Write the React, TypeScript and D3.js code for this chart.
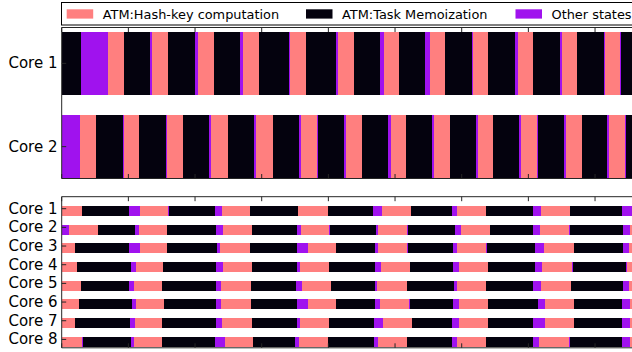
import React from "react";
import * as d3 from "d3";

// State codes: H = hash-key computation, M = task memoization, O = other states
const STATE_LABELS: Record<string, string> = {
  H: "ATM:Hash-key computation",
  M: "ATM:Task Memoization",
  O: "Other states",
};
const STATE_ORDER = ["H", "M", "O"];
const STATE_COLORS: Record<string, string> = {
  H: "#ff7f7f",
  M: "#04020e",
  O: "#a012ee",
};

// Upper panel: two cores
const topCores = ["Core 1", "Core 2"];
const topCore1Bounds = [0, 29, 69, 93, 132, 135, 159, 200, 204, 228, 267, 272, 296, 341, 342, 366, 411, 414, 438, 477, 483, 506, 545, 552, 575, 615, 617, 640, 680, 684, 707, 747, 750, 773, 813, 815, 837, 839, 875];
const topCore1States = "MOHMOHMOHMOHMOHMOHMOHMOHMOHMOHMOHMOHOM";
const topCore2Bounds = [0, 27, 51, 92, 94, 116, 156, 158, 182, 221, 224, 249, 288, 291, 317, 356, 359, 383, 384, 423, 426, 450, 489, 494, 516, 555, 558, 582, 621, 624, 647, 686, 689, 713, 714, 753, 756, 780, 818, 821, 845, 846, 875];
const topCore2States = "OHMOHMOHMOHMOHMOHOMOHMOHMOHMOHMOHOMOHMOHOM";

// Lower panel: eight cores
const bottomCores = ["Core 1", "Core 2", "Core 3", "Core 4", "Core 5", "Core 6", "Core 7", "Core 8"];
const b1Bounds = [0, 30, 101, 118, 160, 161, 230, 240, 283, 354, 355, 399, 400, 467, 480, 524, 585, 593, 636, 707, 719, 763, 841, 860];
const b1States = "HMOHOMOHMOHOMOHMOHMOHMO";
const b2Bounds = [0, 11, 54, 110, 116, 158, 231, 242, 285, 353, 359, 401, 403, 472, 474, 518, 519, 590, 599, 642, 707, 718, 761, 763, 842, 853, 880];
const b2States = "OHMOHMOHMOHOMOHOMOHMOHOMOH";
const b3Bounds = [0, 20, 101, 117, 158, 233, 237, 282, 353, 369, 411, 470, 474, 518, 519, 587, 593, 636, 638, 710, 723, 768, 842, 851, 880];
const b3States = "HMOHMOHMOHMOHOMOHOMOHMOH";
const b4Bounds = [0, 23, 104, 111, 152, 231, 242, 285, 353, 357, 401, 470, 479, 522, 587, 596, 639, 710, 721, 765, 767, 846, 848, 880];
const b4States = "HMOHMOHMOHMOHMOHMOHOMOH";
const b5Bounds = [0, 29, 101, 108, 150, 231, 239, 284, 351, 360, 404, 470, 473, 518, 588, 593, 636, 707, 719, 764, 842, 851, 880];
const b5States = "HMOHMOHMOHMOHMOHMOHMOH";
const b6Bounds = [0, 26, 105, 111, 153, 231, 239, 284, 353, 369, 411, 470, 477, 521, 522, 587, 596, 639, 714, 725, 768, 841, 853, 880];
const b6States = "HMOHMOHMOHMOHOMOHMOHMOH";
const b7Bounds = [0, 20, 102, 110, 150, 231, 240, 285, 353, 357, 401, 468, 482, 525, 585, 596, 639, 707, 725, 768, 841, 853, 880];
const b7States = "HMOHMOHMOHMOHMOHMOHMOH";
const b8Bounds = [0, 30, 32, 104, 108, 150, 230, 245, 287, 350, 356, 399, 468, 474, 518, 585, 593, 636, 707, 716, 761, 763, 841, 853, 880];
const b8States = "HOMOHMOHMOHMOHMOHMOHOMOH";

const xDomain = [0, 900];
const xTickValues = d3.range(0, 901, 100);

type Seg = { core: string; state: string; start: number; end: number };

function toSegments(core: string, bounds: number[], states: string): Seg[] {
  return states.split("").map((s, i) => ({ core, state: s, start: bounds[i], end: bounds[i + 1] }));
}

const topSegments: Seg[] = [
  ...toSegments("Core 1", topCore1Bounds, topCore1States),
  ...toSegments("Core 2", topCore2Bounds, topCore2States),
];
const bottomSegments: Seg[] = [
  ["Core 1", b1Bounds, b1States],
  ["Core 2", b2Bounds, b2States],
  ["Core 3", b3Bounds, b3States],
  ["Core 4", b4Bounds, b4States],
  ["Core 5", b5Bounds, b5States],
  ["Core 6", b6Bounds, b6States],
  ["Core 7", b7Bounds, b7States],
  ["Core 8", b8Bounds, b8States],
].flatMap(([c, b, s]) => toSegments(c as string, b as number[], s as string));

const W = 632;
const H = 352;
const LEFT = 61.7;
const FONT = "'DejaVu Sans', sans-serif";
const AXIS_COLOR = "#262626";
const TICK_LEN = 4.5;

const x = d3.scaleLinear().domain(xDomain).range([LEFT, LEFT + 600]);

type PanelProps = {
  cores: string[];
  segments: Seg[];
  frameTop: number;
  frameBottom: number;
  bandTop: number;
  bandBottom: number;
  padding: number;
  tickFrac: number; // where the y tick sits within each band (0 = top, 1 = bottom)
};

function Panel({ cores, segments, frameTop, frameBottom, bandTop, bandBottom, padding, tickFrac }: PanelProps) {
  const y = d3.scaleBand<string>().domain(cores).range([bandTop, bandBottom]).paddingInner(padding).paddingOuter(0);
  const bw = y.bandwidth();
  return (
    <g>
      <g shapeRendering="crispEdges">
        {segments.map((d, i) => (
          <rect
            key={i}
            x={x(d.start)}
            width={Math.max(0, x(d.end) - x(d.start))}
            y={y(d.core)}
            height={bw}
            fill={STATE_COLORS[d.state]}
          />
        ))}
      </g>
      {/* frame */}
      <line x1={LEFT} x2={W + 10} y1={frameTop} y2={frameTop} stroke={AXIS_COLOR} strokeWidth={1} />
      <line x1={LEFT} x2={W + 10} y1={frameBottom} y2={frameBottom} stroke={AXIS_COLOR} strokeWidth={1} />
      <line x1={LEFT} x2={LEFT} y1={frameTop} y2={frameBottom} stroke={AXIS_COLOR} strokeWidth={1} />
      {/* inward x ticks on top and bottom */}
      {xTickValues.map((t) => (
        <g key={t}>
          <line x1={x(t)} x2={x(t)} y1={frameTop} y2={frameTop + TICK_LEN} stroke={AXIS_COLOR} strokeWidth={1} />
          <line x1={x(t)} x2={x(t)} y1={frameBottom} y2={frameBottom - TICK_LEN} stroke={AXIS_COLOR} strokeWidth={1} />
        </g>
      ))}
      {/* y ticks and labels */}
      {cores.map((c) => {
        const cy = (y(c) as number) + bw * tickFrac;
        return (
          <g key={c}>
            <line x1={LEFT} x2={LEFT + TICK_LEN} y1={cy} y2={cy} stroke={AXIS_COLOR} strokeWidth={1} />
            <text x={57.5} y={cy + 5.0} textAnchor="end" fontSize={15} fontFamily={FONT} fill="#000">
              {c}
            </text>
          </g>
        );
      })}
    </g>
  );
}

const legendItemX = [66.7, 306, 515.5];

function Legend() {
  return (
    <g>
      <rect x={61.5} y={2.5} width={620} height={22.5} fill="#fff" stroke="#000" strokeWidth={1} />
      {STATE_ORDER.map((s, i) => (
        <g key={s} transform={`translate(${legendItemX[i]},0)`}>
          <rect x={0} y={9.3} width={26.5} height={9.3} fill={STATE_COLORS[s]} />
          <text x={36} y={18.6} fontSize={12.9} fontFamily={FONT} fill="#000">
            {STATE_LABELS[s]}
          </text>
        </g>
      ))}
    </g>
  );
}

export default function App() {
  return (
    <svg
      width={W}
      height={H}
      viewBox={`0 0 ${W} ${H}`}
      style={{ position: "absolute", left: 0, top: 0, background: "#fff" }}
    >
      <rect x={0} y={0} width={W} height={H} fill="#fff" />
      <Panel
        cores={topCores}
        segments={topSegments}
        frameTop={27.5}
        frameBottom={178.5}
        bandTop={31.7}
        bandBottom={178.3}
        padding={0.24}
        tickFrac={0.5}
      />
      <Panel
        cores={bottomCores}
        segments={bottomSegments}
        frameTop={196.7}
        frameBottom={347.8}
        bandTop={206}
        bandBottom={346.7}
        padding={0.464}
        tickFrac={0.27}
      />
      <Legend />
    </svg>
  );
}
